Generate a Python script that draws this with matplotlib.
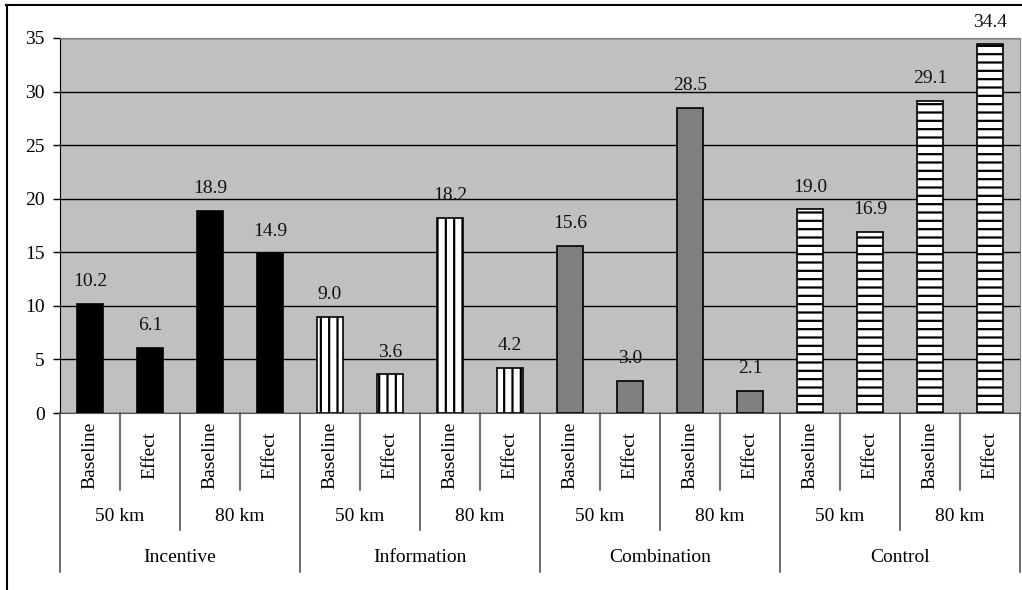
import matplotlib
matplotlib.use("Agg")
import matplotlib.pyplot as plt
from matplotlib.lines import Line2D
import numpy as np

# values
groups = ["Incentive", "Information", "Combination", "Control"]
distances = ["50 km", "80 km"]
phases = ["Baseline", "Effect"]
incentive = [10.2, 6.1, 18.9, 14.9]
information = [9.0, 3.6, 18.2, 4.2]
combination = [15.6, 3.0, 28.5, 2.1]
control = [19.0, 16.9, 29.1, 34.4]
y_ticks = [0, 5, 10, 15, 20, 25, 30, 35]

plt.rcParams['font.family'] = ['Liberation Serif', 'DejaVu Serif']
plt.rcParams['hatch.linewidth'] = 1.6

fig = plt.figure(figsize=(10.22, 5.90), dpi=100)
ax = fig.add_axes([60 / 1022, 177 / 590, 960 / 1022, 375 / 590])
ax.set_facecolor('#c0c0c0')

styles = [
    dict(color='black', edgecolor='black', hatch=None),
    dict(color='white', edgecolor='black', hatch='||'),
    dict(color='#808080', edgecolor='black', hatch=None),
    dict(color='white', edgecolor='black', hatch='--'),
]
series = [incentive, information, combination, control]

fs = 14
for g, (vals, st) in enumerate(zip(series, styles)):
    x = np.arange(4) + g * 4
    ax.bar(x, vals, width=0.42, color=st['color'], edgecolor=st['edgecolor'],
           hatch=st['hatch'], linewidth=1.2, zorder=3)
    for xi, v in zip(x, vals):
        ax.annotate(f"{v:.1f}", (xi, v), xytext=(0, 16), textcoords='offset points',
                    ha='center', va='center', fontsize=fs, color='#111111')

ax.set_xlim(-0.5, 15.5)
ax.set_ylim(0, 35)
ax.set_yticks(y_ticks)
ax.tick_params(axis='y', labelsize=fs, length=5, width=1, direction='out', pad=6)
ax.set_xticks([])
ax.yaxis.grid(True, color='black', linewidth=1, zorder=1)
ax.set_axisbelow(True)
for side in ['top', 'right']:
    ax.spines[side].set_color('#808080')
ax.spines['left'].set_color('black')
ax.spines['bottom'].set_color('#555555')

# multi-level category axis
tr = ax.get_xaxis_transform()
lc = '#555555'
for b in range(17):
    xb = b - 0.5
    if b % 4 == 0:
        y_end = -0.424
    elif b % 2 == 0:
        y_end = -0.312
    else:
        y_end = -0.205
    ax.add_line(Line2D([xb, xb], [0, y_end], transform=tr, color=lc, linewidth=1.2, clip_on=False))

for i in range(16):
    ax.text(i, -0.112, phases[i % 2], transform=tr, rotation=90, ha='center', va='center',
            fontsize=fs)
for j in range(8):
    ax.text(j * 2 + 0.5, -0.277, distances[j % 2], transform=tr, ha='center', va='center',
            fontsize=fs)
for k, name in enumerate(groups):
    ax.text(k * 4 + 1.5, -0.384, name, transform=tr, ha='center', va='center', fontsize=fs)

# outer chart border (left and top visible)
fig.add_artist(Line2D([6.5 / 1022, 6.5 / 1022], [0, 585 / 590], transform=fig.transFigure,
                      color='black', linewidth=1.5))
fig.add_artist(Line2D([6 / 1022, 1], [585 / 590, 585 / 590], transform=fig.transFigure,
                      color='black', linewidth=1.5))

fig.savefig('out.png', dpi=100)
